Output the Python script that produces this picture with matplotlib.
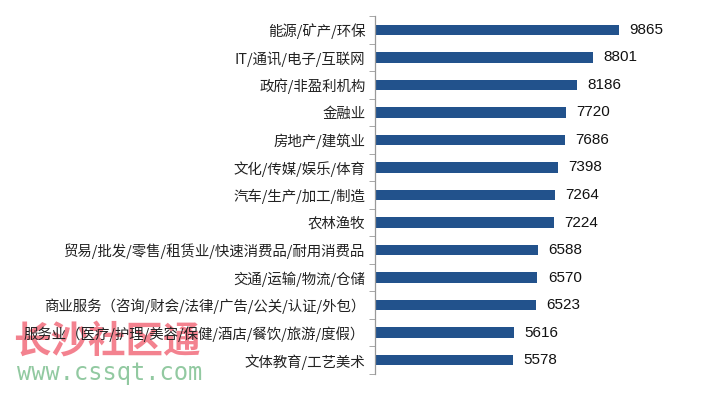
import numpy as np
import matplotlib.pyplot as plt
from matplotlib.ticker import FixedLocator

plt.rcParams['font.family'] = ['Noto Sans CJK SC', 'DejaVu Sans']

categories = [
    "能源/矿产/环保",
    "IT/通讯/电子/互联网",
    "政府/非盈利机构",
    "金融业",
    "房地产/建筑业",
    "文化/传媒/娱乐/体育",
    "汽车/生产/加工/制造",
    "农林渔牧",
    "贸易/批发/零售/租赁业/快速消费品/耐用消费品",
    "交通/运输/物流/仓储",
    "商业服务（咨询/财会/法律/广告/公关/认证/外包）",
    "服务业（医疗/护理/美容/保健/酒店/餐饮/旅游/度假）",
    "文体教育/工艺美术",
]
values = [9865, 8801, 8186, 7720, 7686, 7398, 7264, 7224, 6588, 6570, 6523, 5616, 5578]

bar_color = "#22528c"

fig = plt.figure(figsize=(7.03, 3.97), dpi=100)
ax = fig.add_axes([375 / 703, 1 - 374 / 397, 300 / 703, 358 / 397])

y = np.arange(len(categories))
ax.barh(y, values, height=0.38, color=bar_color)

for yi, v in zip(y, values):
    ax.text(v + 420, yi, str(v), va="center", ha="left", fontsize=11,
            family=["Liberation Sans", "DejaVu Sans"], color="#111111")

ax.set_xlim(0, 12130)
ax.set_ylim(len(categories) - 0.5, -0.5)

ax.set_yticks(y)
ax.set_yticklabels(categories, fontsize=10.4, color="#222222")
ax.yaxis.set_minor_locator(FixedLocator(np.arange(-0.5, len(categories), 1)))
ax.tick_params(axis="y", which="major", length=0, pad=7)
ax.tick_params(axis="y", which="minor", length=4, color="#999999")
ax.set_xticks([])

for s in ["top", "right", "bottom"]:
    ax.spines[s].set_visible(False)
ax.spines["left"].set_color("#999999")
ax.spines["left"].set_linewidth(0.9)

# watermark, drawn under the axes labels
fig.text(13 / 703, 1 - 341 / 397, "长沙社区通", fontsize=27, fontweight="bold",
         color="#f26c7c", alpha=0.85, va="center", ha="left", zorder=-1)
fig.text(17 / 703, 1 - 373 / 397, "www.cssqt.com", fontsize=17,
         family=["DejaVu Sans Mono"], color="#86c497", alpha=0.9,
         va="center", ha="left", zorder=-1)
ax.patch.set_alpha(0)

fig.savefig("out.png", dpi=100)
